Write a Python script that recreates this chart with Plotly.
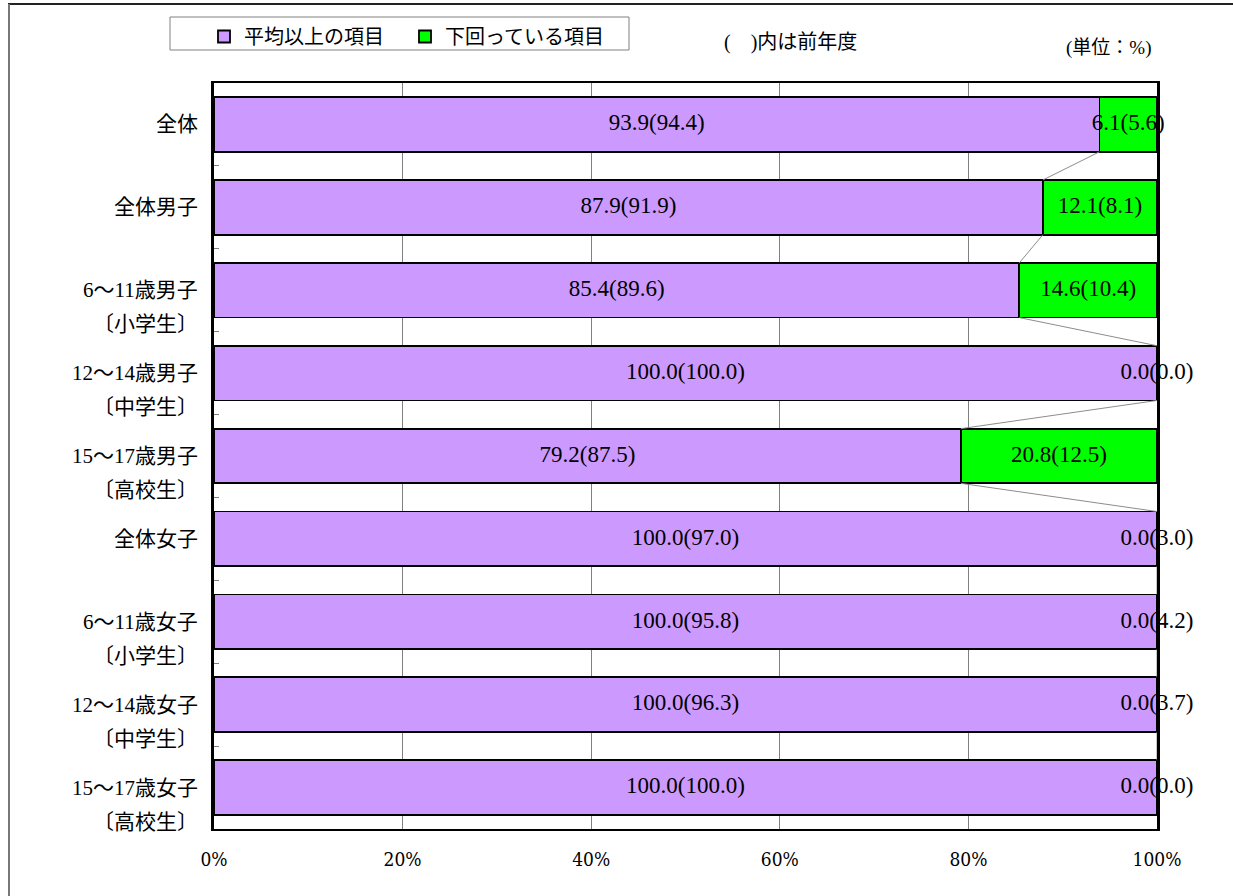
import plotly.graph_objects as go

# --- data -------------------------------------------------------------
categories = [
    ["全体"],
    ["全体男子"],
    ["6～11歳男子", "〔小学生〕"],
    ["12～14歳男子", "〔中学生〕"],
    ["15～17歳男子", "〔高校生〕"],
    ["全体女子"],
    ["6～11歳女子", "〔小学生〕"],
    ["12～14歳女子", "〔中学生〕"],
    ["15～17歳女子", "〔高校生〕"],
]
above_now = [93.9, 87.9, 85.4, 100.0, 79.2, 100.0, 100.0, 100.0, 100.0]
above_prev = [94.4, 91.9, 89.6, 100.0, 87.5, 97.0, 95.8, 96.3, 100.0]
below_now = [6.1, 12.1, 14.6, 0.0, 20.8, 0.0, 0.0, 0.0, 0.0]
below_prev = [5.6, 8.1, 10.4, 0.0, 12.5, 3.0, 4.2, 3.7, 0.0]
x_ticks = [0, 20, 40, 60, 80, 100]
x_tick_text = ["0%", "20%", "40%", "60%", "80%", "100%"]
series_names = ["平均以上の項目", "下回っている項目"]

# --- styling ----------------------------------------------------------
W, H = 1233, 896
ML, MR, MT, MB = 214, 76, 83, 67
PW, PH = W - ML - MR, H - MT - MB
PURPLE = "#CC99FF"
GREEN = "#00FF00"
FONT = "Liberation Serif, Noto Sans CJK JP, serif"
BAR_W = 0.66


def px_x(px):
    return (px - ML) / PW


def px_y(py):
    return (H - MB - py) / PH


pos = list(range(len(categories)))

fig = go.Figure()

fig.add_trace(go.Bar(
    y=pos, x=above_now, orientation="h", width=BAR_W, name=series_names[0],
    marker=dict(color=PURPLE, line=dict(color="black", width=1.8)),
    hoverinfo="skip",
))
fig.add_trace(go.Bar(
    y=pos, x=below_now, orientation="h", width=BAR_W, name=series_names[1],
    marker=dict(color=GREEN, line=dict(color="black", width=1.8)),
    hoverinfo="skip",
))

# series lines joining the boundary between the two segments of adjacent bars
sx, sy = [], []
for i in range(len(pos) - 1):
    sx += [above_now[i], above_now[i + 1], None]
    sy += [pos[i] + BAR_W / 2, pos[i + 1] - BAR_W / 2, None]
fig.add_trace(go.Scatter(
    x=sx, y=sy, mode="lines", line=dict(color="#8c8c8c", width=1),
    showlegend=False, hoverinfo="skip",
))

# value labels: current value (previous year)
lx, ly, lt = [], [], []
for i in pos:
    lx.append(above_now[i] / 2)
    ly.append(pos[i])
    lt.append(f"{above_now[i]:.1f}({above_prev[i]:.1f})")
    lx.append(above_now[i] + below_now[i] / 2)
    ly.append(pos[i])
    lt.append(f"{below_now[i]:.1f}({below_prev[i]:.1f})")
fig.add_trace(go.Scatter(
    x=lx, y=ly, mode="text", text=lt, textposition="middle center",
    textfont=dict(family=FONT, size=23, color="black"),
    showlegend=False, hoverinfo="skip", cliponaxis=False,
))

annotations = []
# category labels (one or two lines, right aligned)
for i, lines in enumerate(categories):
    for k, line in enumerate(lines):
        annotations.append(dict(
            x=0, xref="paper", xanchor="right", xshift=-14,
            y=pos[i], yref="y", yanchor="middle", yshift=-34 * k,
            text=line, showarrow=False,
            font=dict(family=FONT, size=21, color="black"),
        ))
annotations.append(dict(
    x=px_x(722), xref="paper", xanchor="left", y=px_y(43), yref="paper", yanchor="middle",
    text="(\u2003)内は前年度", showarrow=False,
    font=dict(family=FONT, size=20, color="black"),
))
annotations.append(dict(
    x=px_x(1064), xref="paper", xanchor="left", y=px_y(48), yref="paper", yanchor="middle",
    text="(単位：%)", showarrow=False,
    font=dict(family=FONT, size=19, color="black"),
))

shapes = [
    # legend box
    dict(type="rect", xref="paper", yref="paper",
         x0=px_x(170), x1=px_x(629), y0=px_y(17), y1=px_y(50),
         line=dict(color="#808080", width=1), fillcolor="rgba(0,0,0,0)"),
    # outer chart frame (top and left edges)
    dict(type="line", xref="paper", yref="paper",
         x0=px_x(8), x1=px_x(1240), y0=px_y(4), y1=px_y(4),
         line=dict(color="#222222", width=2)),
    dict(type="line", xref="paper", yref="paper",
         x0=px_x(9), x1=px_x(9), y0=px_y(4), y1=px_y(900),
         line=dict(color="#777777", width=2)),
]

fig.update_layout(
    width=W, height=H,
    margin=dict(l=ML, r=MR, t=MT, b=MB, pad=0),
    barmode="stack",
    plot_bgcolor="white", paper_bgcolor="white",
    showlegend=True,
    legend=dict(
        orientation="h", x=px_x(204), xanchor="left", y=px_y(17), yanchor="top",
        font=dict(family=FONT, size=20, color="black"),
        bgcolor="rgba(0,0,0,0)", borderwidth=0, itemwidth=30,
        entrywidth=156, entrywidthmode="pixels",
        traceorder="normal", itemclick=False, itemdoubleclick=False,
    ),
    xaxis=dict(
        range=[0, 100], tickvals=x_ticks, ticktext=x_tick_text,
        showgrid=True, gridcolor="#808080", gridwidth=1, zeroline=False,
        showline=True, linecolor="black", linewidth=2, mirror=True,
        ticks="", ticklabelstandoff=12,
        tickfont=dict(family="DejaVu Serif Condensed, Liberation Serif, serif", size=19, color="black"),
    ),
    yaxis=dict(
        range=[len(pos) - 0.5, -0.5],
        tickvals=[p + 0.5 for p in pos[:-1]], showticklabels=False,
        ticks="inside", ticklen=5, tickcolor="#808080", tickwidth=1,
        showgrid=False, zeroline=False,
        showline=True, linecolor="black", linewidth=2.5, mirror=True,
    ),
    annotations=annotations,
    shapes=shapes,
)

fig.write_html("out.html")
